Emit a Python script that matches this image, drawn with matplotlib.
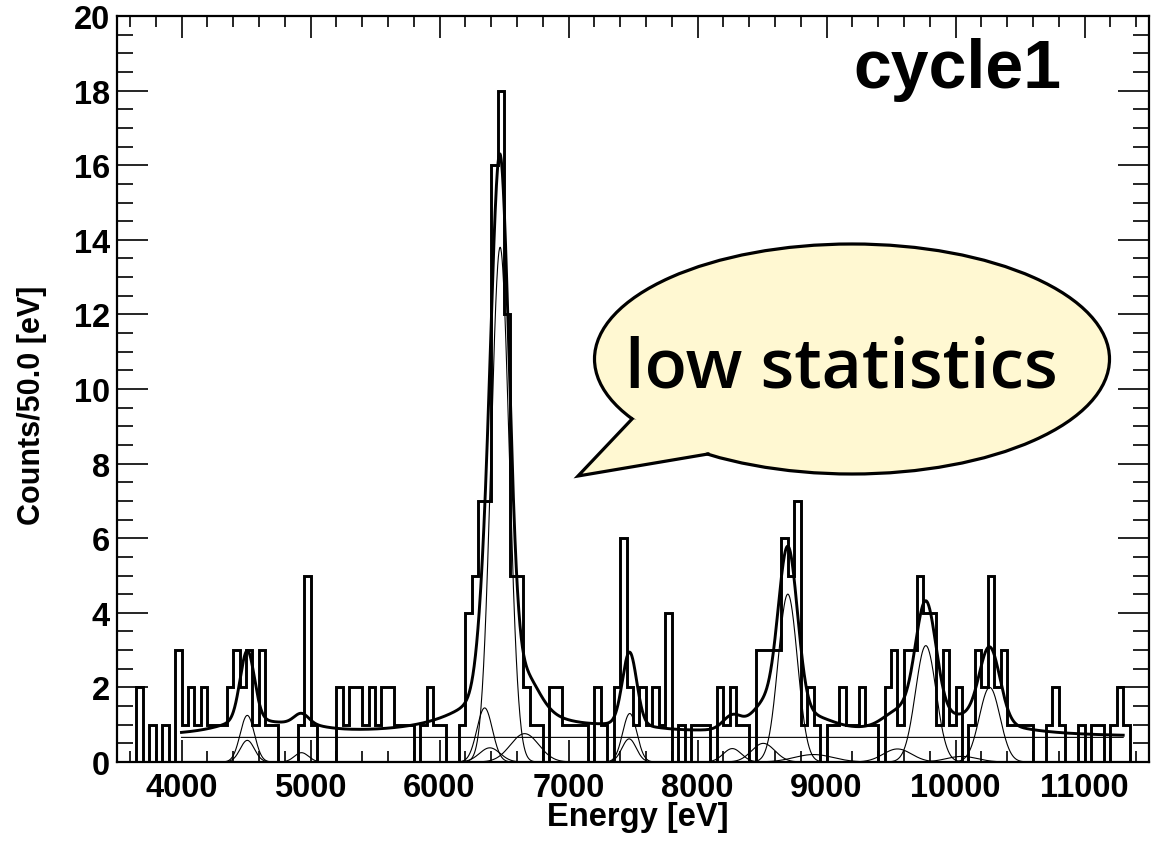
import numpy as np
import matplotlib
matplotlib.use("Agg")
import matplotlib.pyplot as plt
from matplotlib.patches import Ellipse, Polygon
from matplotlib.ticker import MultipleLocator

# ---------------- data ----------------
bin_start = 3500
bin_width = 50
counts = [
    0, 0, 0, 2, 0, 1, 0, 1, 0, 3,
    1, 2, 1, 2, 1, 1, 1, 2, 3, 2,
    3, 1, 3, 1, 1, 0, 0, 0, 1, 5,
    1, 0, 0, 0, 2, 1, 2, 2, 1, 2,
    1, 2, 2, 1, 1, 1, 0, 1, 2, 1,
    1, 0, 0, 1, 4, 5, 7, 7, 16, 18,
    12, 5, 5, 2, 1, 1, 0, 2, 2, 1,
    1, 1, 1, 0, 2, 1, 0, 2, 6, 2,
    1, 2, 1, 2, 1, 4, 0, 1, 0, 1,
    1, 1, 0, 2, 1, 2, 1, 1, 0, 3,
    3, 3, 3, 6, 5, 7, 1, 2, 1, 0,
    1, 1, 2, 1, 1, 2, 1, 1, 0, 2,
    3, 1, 3, 3, 5, 4, 4, 1, 3, 1,
    2, 0, 1, 3, 2, 5, 2, 3, 1, 1,
    1, 1, 0, 0, 1, 2, 1, 0, 0, 1,
    0, 1, 1, 0, 1, 2, 1, 0, 0, 0,
]
x_ticks = [4000, 5000, 6000, 7000, 8000, 9000, 10000, 11000]
y_ticks = [0, 2, 4, 6, 8, 10, 12, 14, 16, 18, 20]

# fit model (thin component lines + thick total)
fit_lo, fit_hi = 4000, 11300
background = 0.66
comp_center = [4510, 4510, 4930, 6350, 6390, 6470, 6660, 7475, 7470,
               8270, 8510, 8700, 8900, 9550, 9770, 10050, 10265]
comp_amp = [1.25, 0.58, 0.25, 1.45, 0.38, 13.8, 0.76, 1.30, 0.62,
            0.36, 0.50, 4.5, 0.20, 0.35, 3.12, 0.15, 2.0]
comp_sigma = [55, 55, 55, 60, 80, 70, 110, 55, 55,
              70, 90, 75, 150, 110, 80, 120, 80]
wing_center = [4510, 4930, 6460, 7470, 8700, 9770, 10265]
wing_amp = [0.40, 0.20, 1.2, 0.18, 0.4, 0.35, 0.25]
wing_fwhm = [550, 450, 750, 550, 650, 700, 700]

# ---------------- build ----------------
edges = bin_start + bin_width * np.arange(len(counts) + 1)
xf = np.linspace(fit_lo, fit_hi, 3000)


def gauss(x, c, a, s):
    return a * np.exp(-0.5 * ((x - c) / s) ** 2)


def lorentz(x, c, a, f):
    return a / (1.0 + 4.0 * ((x - c) / f) ** 2)


comps = [gauss(xf, c, a, s) for c, a, s in zip(comp_center, comp_amp, comp_sigma)]
wings = [lorentz(xf, c, a, f) for c, a, f in zip(wing_center, wing_amp, wing_fwhm)]
total = background + np.sum(comps, axis=0) + np.sum(wings, axis=0)

plt.rcParams['font.family'] = ['Liberation Sans', 'DejaVu Sans']
plt.rcParams['font.weight'] = 'bold'

W, H = 1154, 845
fig = plt.figure(figsize=(W / 100, H / 100), dpi=100)
ax = fig.add_axes([117 / W, 82 / H, 1032 / W, 746 / H])

ax.stairs(counts, edges, baseline=0, color='black', lw=2.1, zorder=3)
for c in comps:
    ax.plot(xf, c, color='black', lw=0.8, zorder=2)
ax.plot(xf, np.full_like(xf, background), color='black', lw=0.8, zorder=2)
ax.plot(xf, total, color='black', lw=2.1, zorder=4)

ax.set_xlim(3500, 11500)
ax.set_ylim(0, 20)
ax.set_xticks(x_ticks)
ax.set_yticks(y_ticks)
ax.xaxis.set_minor_locator(MultipleLocator(200))
ax.yaxis.set_minor_locator(MultipleLocator(0.5))
ax.tick_params(which='both', direction='in', top=True, right=True,
               labelsize=23.5, width=1.2)
ax.tick_params(axis='x', which='major', length=16, pad=7)
ax.tick_params(axis='x', which='minor', length=8)
ax.tick_params(axis='y', which='major', length=22, pad=5)
ax.tick_params(axis='y', which='minor', length=11.5)
for lab in ax.get_xticklabels() + ax.get_yticklabels():
    lab.set_fontweight('bold')
for sp in ax.spines.values():
    sp.set_linewidth(1.6)

fig.text(638 / W, 1 - 818 / H, 'Energy [eV]', ha='center', va='center',
         fontsize=23.5, fontweight='bold')
fig.text(32 / W, 1 - 405 / H, 'Counts/50.0 [eV]', ha='center', va='center',
         rotation=90, fontsize=22, fontweight='bold')
fig.text(1061 / W, 1 - 88 / H, 'cycle1', ha='right', va='baseline',
         fontsize=49, fontweight='bold')

# speech bubble overlay
ov = fig.add_axes([0, 0, 1, 1])
ov.set_xlim(0, W)
ov.set_ylim(H, 0)
ov.axis('off')
ov.patch.set_alpha(0)
bub_fc = '#FFF8D2'
ov.add_patch(Ellipse((852, 360), 515, 230, facecolor=bub_fc, edgecolor='black',
                     lw=2.3, zorder=5))
ov.add_patch(Polygon([(632, 420), (578, 477), (708, 455), (680, 425)], closed=True,
                     facecolor=bub_fc, edgecolor='none', zorder=6))
ov.plot([632, 578, 708], [420, 477, 455], color='black', lw=2.3, zorder=7,
        solid_joinstyle='miter')
ov.text(841, 388, 'low statistics', ha='center', va='baseline', fontsize=50,
        family=['Open Sans', 'DejaVu Sans'], fontweight='semibold', zorder=8)

fig.savefig('out.png', dpi=100)
